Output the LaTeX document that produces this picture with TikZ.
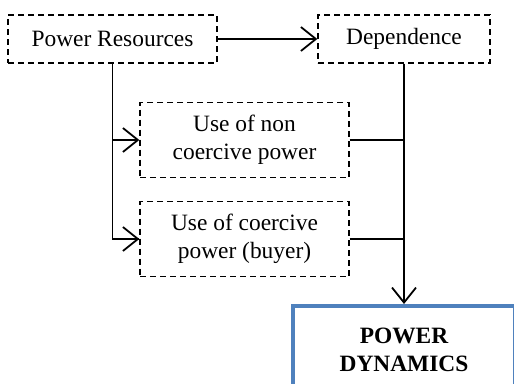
\documentclass[tikz,border=0pt]{standalone}
\usepackage{fontspec}
\setmainfont{Liberation Serif}
\usetikzlibrary{arrows.meta}
\definecolor{frameblue}{RGB}{79,129,189}
\begin{document}
\begin{tikzpicture}[x=1bp,y=-1bp,
  dbox/.style={draw, line width=1.3bp, dash pattern=on 6bp off 4bp,
    inner sep=0pt, align=center,
    font=\fontsize{23.5}{28}\selectfont},
  link/.style={line width=1.8bp},
  arr/.style={link, -{Straight Barb[length=15bp,width=24bp,line width=1.8bp]}},
  outbox/.style={draw=frameblue, line width=4bp, inner sep=0pt, align=center,
    font=\fontsize{23.5}{28}\selectfont\bfseries}]
  \useasboundingbox (0,0) rectangle (514,383);
  \clip (0,0) rectangle (514,383);

  \node[dbox, minimum width=209bp, minimum height=48bp] (res) at (112.5,39) {Power Resources};
  \node[dbox, minimum width=172bp, minimum height=48bp] (dep) at (404,39) {Dependence};
  \node[dbox, minimum width=209bp, minimum height=75bp] (nonc) at (244.5,140) {Use of non\\coercive power};
  \node[dbox, minimum width=209bp, minimum height=75bp] (coer) at (244.5,239) {Use of coercive\\power (buyer)};
  \node[outbox, minimum width=222bp, minimum height=88bp] (pd) at (404,350) {POWER\\DYNAMICS};

  \draw[arr] (res) -- (dep);
  \draw[link] (res.south) |- (coer.west) coordinate (c2);
  \draw[arr] (res.south |- nonc.west) -- (nonc.west);
  \draw[arr] (res.south |- coer.west) -- (coer.west);
  \draw[arr] (dep.south) -- (pd.north);
  \draw[link] (nonc.east) -- (nonc.east -| dep.south);
  \draw[link] (coer.east) -- (coer.east -| dep.south);
\end{tikzpicture}
\end{document}
